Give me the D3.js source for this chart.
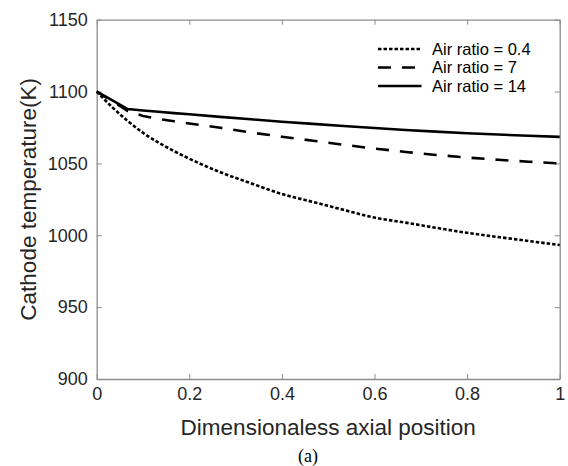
<!DOCTYPE html>
<html>
<head>
<meta charset="utf-8">
<script src="https://cdn.jsdelivr.net/npm/d3@7"></script>
<style>
	body { margin: 0; background: #fff; }
	svg { display: block; }
	.axis path, .axis line { stroke: #8c8c8c; }
	.axis text { fill: #262626; font-family: 'Liberation Sans', Arial, sans-serif; }
</style>
</head>
<body>
<svg id="chart" width="568" height="466"></svg>
<script>

// axial positions (dimensionless)
var aPos = [0, 0.033, 0.067, 0.1, 0.133, 0.167, 0.2, 0.267, 0.333, 0.4, 0.467, 0.533, 0.6, 0.667, 0.733, 0.8, 0.867, 0.933, 1];

// cathode temperature (K) per air ratio
var aRatio04 = [1100, 1089.3, 1079.5, 1071.3, 1064.6, 1058.6, 1053.3, 1043.9, 1036.2, 1028.7, 1023.2, 1017.7, 1012.3, 1008.8, 1005.2, 1001.7, 998.8, 996, 993.2];
var aRatio7  = [1100, 1093.5, 1086.5, 1083, 1081, 1079.3, 1077.8, 1074.8, 1071.5, 1068.6, 1065.8, 1063, 1060.3, 1058, 1055.9, 1054.1, 1052.5, 1051.2, 1050];
var aRatio14 = [1100, 1094, 1087.8, 1086.8, 1085.9, 1085, 1084.2, 1082.4, 1080.7, 1079, 1077.5, 1076, 1074.6, 1073.3, 1072.1, 1071, 1070.1, 1069.2, 1068.5];

var aXTicks = [0, 0.2, 0.4, 0.6, 0.8, 1];
var aYTicks = [900, 950, 1000, 1050, 1100, 1150];

var aSeries = [
	{ label: 'Air ratio = 0.4', values: aRatio04, dash: '3.5,2', curve: d3.curveMonotoneX },
	{ label: 'Air ratio = 7', values: aRatio7, dash: '13,11', curve: d3.curveLinear },
	{ label: 'Air ratio = 14', values: aRatio14, dash: null, curve: d3.curveLinear }
];

var sSvg = d3.select('#chart');

var nLeft = 96.7, nRight = 559.7, nTop = 19.7, nBottom = 379;

var scaleX = d3.scaleLinear().domain([0, 1]).range([nLeft, nRight]);
var scaleY = d3.scaleLinear().domain([900, 1150]).range([nBottom, nTop]);

var nTick = 5;
var strFont = "'Liberation Sans', Arial, sans-serif";

// box axes, ticks pointing inward
sSvg.append('g').attr('class', 'axis')
	.attr('transform', 'translate(0,' + nBottom + ')')
	.call(d3.axisBottom(scaleX).tickValues(aXTicks).tickSize(-nTick).tickSizeOuter(0).tickPadding(8)
		.tickFormat(d3.format('')))
	.selectAll('text').style('font-size', '18px');

sSvg.append('g').attr('class', 'axis')
	.attr('transform', 'translate(0,' + nTop + ')')
	.call(d3.axisTop(scaleX).tickValues(aXTicks).tickSize(-nTick).tickSizeOuter(0).tickFormat(''));

sSvg.append('g').attr('class', 'axis')
	.attr('transform', 'translate(' + nLeft + ',0)')
	.call(d3.axisLeft(scaleY).tickValues(aYTicks).tickSize(-nTick).tickSizeOuter(0).tickPadding(9)
		.tickFormat(d3.format('d')))
	.selectAll('text').style('font-size', '18px');

sSvg.append('g').attr('class', 'axis')
	.attr('transform', 'translate(' + nRight + ',0)')
	.call(d3.axisRight(scaleY).tickValues(aYTicks).tickSize(-nTick).tickSizeOuter(0).tickFormat(''));

sSvg.selectAll('.axis path').style('stroke-width', 1.3);

// curves
aSeries.forEach(function(series)
{
	var line = d3.line()
		.curve(series.curve)
		.x(function(d, i) { return scaleX(aPos[i]); })
		.y(function(d) { return scaleY(d); });

	sSvg.append('path')
		.attr('d', line(series.values))
		.attr('fill', 'none')
		.attr('stroke', '#000')
		.attr('stroke-width', 2.6)
		.attr('stroke-dasharray', series.dash);
});

// legend
var sLegend = sSvg.append('g');
aSeries.forEach(function(series, nIndex)
{
	var nY = 49 + nIndex * 18.5;
	sLegend.append('line')
		.attr('x1', 378).attr('x2', 421.5)
		.attr('y1', nY).attr('y2', nY)
		.attr('stroke', '#000')
		.attr('stroke-width', 2.6)
		.attr('stroke-dasharray', series.dash);
	sLegend.append('text')
		.attr('x', 432).attr('y', nY)
		.attr('dy', '0.35em')
		.style('font-family', strFont)
		.style('font-size', '16.5px')
		.style('fill', '#000')
		.text(series.label);
});

// axis labels
sSvg.append('text')
	.attr('x', (nLeft + nRight) / 2).attr('y', 435)
	.attr('text-anchor', 'middle')
	.style('font-family', strFont)
	.style('font-size', '22.5px')
	.style('fill', '#262626')
	.text('Dimensionaless axial position');

sSvg.append('text')
	.attr('transform', 'translate(36,' + ((nTop + nBottom) / 2) + ') rotate(-90)')
	.attr('text-anchor', 'middle')
	.style('font-family', strFont)
	.style('font-size', '22.5px')
	.style('fill', '#262626')
	.text('Cathode temperature(K)');

sSvg.append('text')
	.attr('x', 308).attr('y', 462)
	.attr('text-anchor', 'middle')
	.style('font-family', "'Liberation Serif', 'Times New Roman', serif")
	.style('font-size', '18px')
	.style('fill', '#000')
	.text('(a)');

</script>
</body>
</html>
